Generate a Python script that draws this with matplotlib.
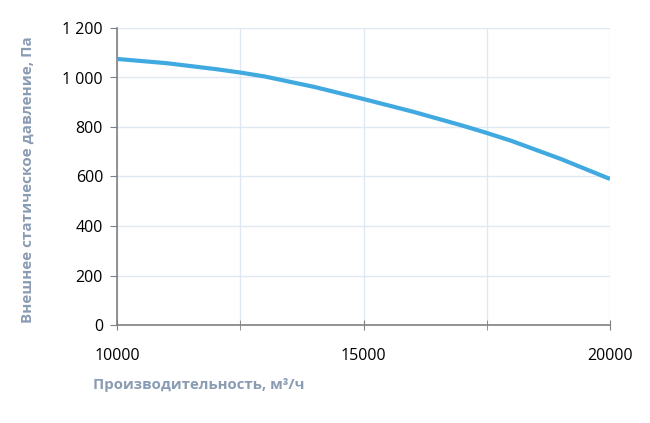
import matplotlib
matplotlib.use("Agg")
import matplotlib.pyplot as plt
from matplotlib.ticker import FuncFormatter, MultipleLocator

# curve (airflow m3/h -> pressure Pa)
flow = [10000, 11000, 12000, 12500, 13000, 14000, 15000, 16000, 17000, 17500, 18000, 19000, 20000]
pressure = [1075, 1058, 1034, 1020, 1004, 962, 913, 862, 806, 776, 744, 671, 590]

xticks = [10000, 15000, 20000]
yticks = [0, 200, 400, 600, 800, 1000, 1200]

line_col = '#3fa9e0'
grid_col = '#dfe8f3'
label_col = '#8a9cb3'

plt.rcParams['font.family'] = ['Open Sans', 'DejaVu Sans']

fig = plt.figure(figsize=(6.5, 4.23), dpi=100)
ax = fig.add_axes([117/650, 1-325/423, (610-117)/650, (325-28)/423])

ax.plot(flow, pressure, color=line_col, lw=3, solid_capstyle='butt',
        solid_joinstyle='round', zorder=3)

ax.set_xlim(10000, 20000)
ax.set_ylim(0, 1200)
ax.set_xticks(xticks)
ax.xaxis.set_minor_locator(MultipleLocator(2500))
ax.set_yticks(yticks)
ax.yaxis.set_major_formatter(FuncFormatter(lambda v, p: f'{int(v):,}'.replace(',', ' ')))

ax.grid(True, which='both', axis='x', color=grid_col, lw=1)
ax.grid(True, which='major', axis='y', color=grid_col, lw=1)
ax.set_axisbelow(True)

for s in ['top', 'right']:
    ax.spines[s].set_visible(False)
for s in ['left', 'bottom']:
    ax.spines[s].set_color('#808080')
    ax.spines[s].set_linewidth(1.2)

ax.tick_params(axis='y', which='major', direction='out', length=5, color='#808080',
               labelsize=11.5, pad=5, labelcolor='black')
ax.tick_params(axis='x', which='both', direction='inout', length=7, color='#808080',
               labelsize=11.5, pad=13, labelcolor='black')

fig.text(28/650, 1-180/423, 'Внешнее статическое давление, Па', rotation=90,
         ha='center', va='center', fontsize=11, fontweight='bold', color=label_col)
fig.text(93/650, 1-385/423, 'Производительность, м³/ч', ha='left', va='center',
         fontsize=10.8, fontweight='bold', color=label_col)

fig.savefig('out.png', dpi=100)
